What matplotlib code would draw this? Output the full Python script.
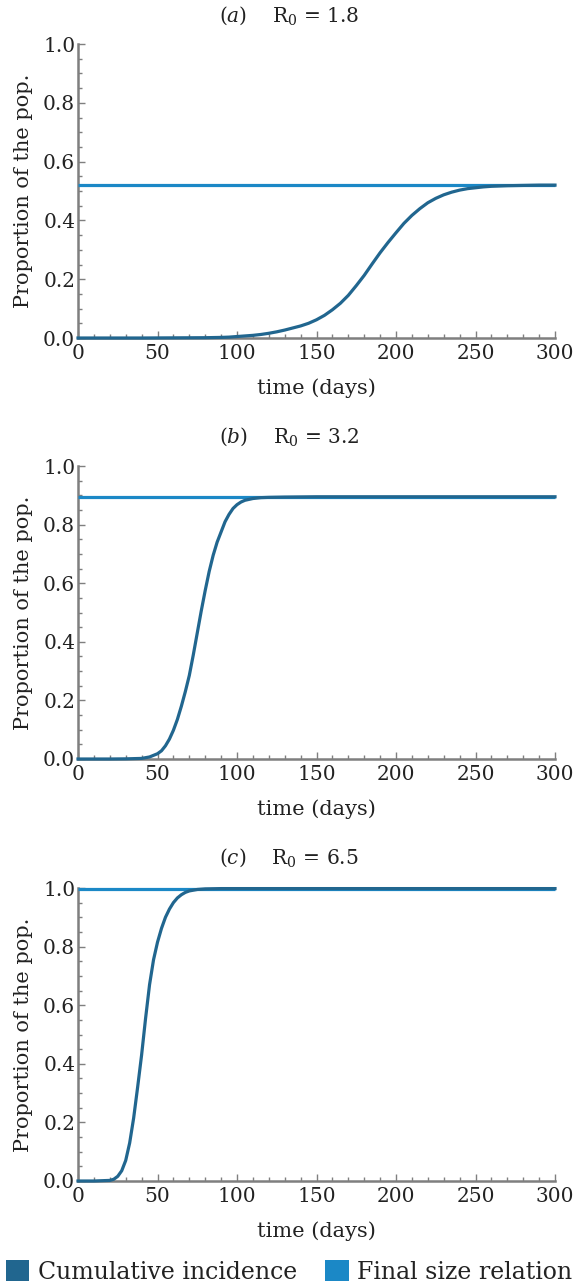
import matplotlib
matplotlib.use("Agg")
import matplotlib.pyplot as plt
from matplotlib.patches import Patch
from matplotlib.ticker import MultipleLocator, FormatStrFormatter

plt.rcParams['font.family'] = ['DejaVu Serif']
plt.rcParams['mathtext.fontset'] = 'dejavuserif'

# ---- data ----
t_a = [0, 20, 40, 60, 80, 90, 95, 100, 105, 110, 115, 120, 125, 130, 135, 140,
       145, 150, 155, 160, 165, 170, 175, 180, 185, 190, 195, 200, 205, 210,
       215, 220, 225, 230, 235, 240, 245, 250, 255, 260, 270, 280, 290, 300]
cum_a = [0.0, 0.0, 0.0, 0.0005, 0.001, 0.002, 0.003, 0.005, 0.007, 0.009, 0.012,
         0.016, 0.021, 0.027, 0.034, 0.041, 0.050, 0.062, 0.077, 0.096, 0.118,
         0.145, 0.178, 0.213, 0.252, 0.29, 0.325, 0.358, 0.39, 0.417, 0.44,
         0.46, 0.475, 0.487, 0.496, 0.503, 0.508, 0.511, 0.514, 0.516, 0.518,
         0.519, 0.520, 0.520]
final_a = 0.52

t_b = [0, 20, 30, 40, 45, 50, 52.5, 55, 57.5, 60, 62.5, 65, 67.5, 70, 72.5, 75,
       77.5, 80, 82.5, 85, 87.5, 90, 92.5, 95, 97.5, 100, 102.5, 105, 110, 115,
       120, 130, 150, 200, 250, 300]
cum_b = [0.0, 0.0, 0.0005, 0.002, 0.007, 0.018, 0.028, 0.045, 0.068, 0.098,
         0.135, 0.18, 0.23, 0.285, 0.355, 0.43, 0.505, 0.575, 0.64, 0.695, 0.74,
         0.775, 0.81, 0.835, 0.855, 0.868, 0.877, 0.883, 0.889, 0.892, 0.893,
         0.894, 0.895, 0.895, 0.895, 0.895]
final_b = 0.895

t_c = [0, 10, 20, 22.5, 25, 27.5, 30, 32.5, 35, 37.5, 40, 42.5, 45, 47.5, 50,
       52.5, 55, 57.5, 60, 62.5, 65, 67.5, 70, 75, 80, 90, 100, 150, 200, 250, 300]
cum_c = [0.0, 0.0, 0.002, 0.006, 0.016, 0.035, 0.07, 0.13, 0.215, 0.32, 0.43,
         0.555, 0.67, 0.755, 0.815, 0.862, 0.9, 0.928, 0.95, 0.966, 0.977,
         0.985, 0.99, 0.995, 0.997, 0.998, 0.998, 0.998, 0.998, 0.998, 0.998]
final_c = 0.998

panel_labels = ['a', 'b', 'c']
r0_values = ['1.8', '3.2', '6.5']
series_names = ['Cumulative incidence', 'Final size relation']

# ---- style ----
C_CUM = '#21668f'
C_FIN = '#1b88c6'
SPINE = '#7f7f7f'
TXT = '#222222'

W, H = 578, 1287
fig = plt.figure(figsize=(W / 100, H / 100), dpi=100)

boxes = [(44, 338), (466, 759), (888, 1181)]
title_y = [16, 437, 858]
left_px, right_px = 78, 555

data = [(t_a, cum_a, final_a), (t_b, cum_b, final_b), (t_c, cum_c, final_c)]

for i, ((top, bot), (t, cum, fin)) in enumerate(zip(boxes, data)):
    ax = fig.add_axes([left_px / W, 1 - bot / H, (right_px - left_px) / W, (bot - top) / H])
    ax.plot([0, 300], [fin, fin], color=C_FIN, lw=2.3, solid_capstyle='butt',
            clip_on=False, zorder=3)
    ax.plot(t, cum, color=C_CUM, lw=2.3, clip_on=False, zorder=4)
    ax.set_xlim(0, 300)
    ax.set_ylim(0, 1)
    for s in ['top', 'right']:
        ax.spines[s].set_visible(False)
    for s in ['left', 'bottom']:
        ax.spines[s].set_color(SPINE)
        ax.spines[s].set_linewidth(1.8)
    ax.xaxis.set_major_locator(MultipleLocator(50))
    ax.xaxis.set_minor_locator(MultipleLocator(10))
    ax.yaxis.set_major_locator(MultipleLocator(0.2))
    ax.yaxis.set_minor_locator(MultipleLocator(0.05))
    ax.yaxis.set_major_formatter(FormatStrFormatter('%.1f'))
    ax.tick_params(which='both', direction='in', color=SPINE, width=1.0,
                   labelsize=14.5, labelcolor=TXT)
    ax.tick_params(which='major', length=5, pad=2)
    ax.tick_params(which='minor', length=3)
    ax.tick_params(axis='x', which='major', pad=4)
    ax.set_xlabel('time (days)', fontsize=15, color=TXT, labelpad=11)
    ax.set_ylabel('Proportion of the pop.', fontsize=15, color=TXT, labelpad=7)
    fig.text(0.5, 1 - title_y[i] / H,
             r'$(%s)$    R$_0$ = %s' % (panel_labels[i], r0_values[i]),
             ha='center', va='center', fontsize=14.5, color=TXT)

handles = [Patch(facecolor=C_CUM, edgecolor='none'),
           Patch(facecolor=C_FIN, edgecolor='none')]
fig.legend(handles, series_names, loc='center', bbox_to_anchor=(0.5, 1 - 1272 / H),
           ncol=2, frameon=False, fontsize=17, handlelength=1.0, handleheight=1.0,
           handletextpad=0.35, columnspacing=1.2, labelcolor=TXT,
           borderpad=0, borderaxespad=0)

fig.savefig('out.png', dpi=100)
